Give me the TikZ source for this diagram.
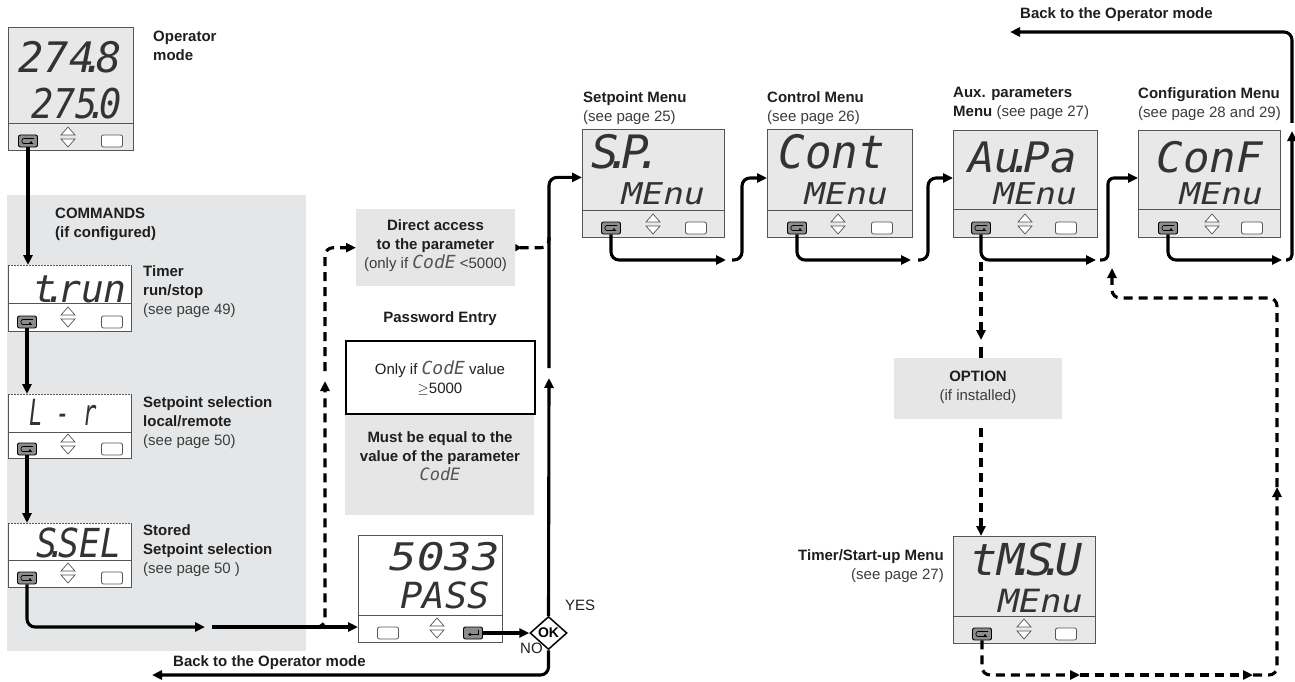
\documentclass[tikz,border=0pt]{standalone}
\usepackage{fontspec}
\usepackage{graphicx}
\setmainfont{Liberation Sans}
\newfontfamily\segfont{DejaVu Sans Mono}
\usetikzlibrary{arrows.meta,shapes.geometric}
\definecolor{panel}{HTML}{E5E6E8}
\definecolor{boxg}{HTML}{E6E6E6}
\definecolor{dispg}{HTML}{E8E8E8}
\definecolor{bord}{HTML}{555555}
\definecolor{btng}{HTML}{8C8C8C}
\definecolor{txt}{HTML}{1E1E1E}
\definecolor{subc}{HTML}{3C3C3C}
\definecolor{segc}{HTML}{333333}
\newcommand\dt{\kern-0.3em.\kern-0.25em}
\newcommand\seg[3]{\scalebox{#2}[1]{\fontsize{#1}{#1}\selectfont\segfont\itshape #3}}
\newcommand\subtx[1]{\textcolor{subc}{#1}}
\newcommand\codeword[1]{\seg{#1}{1}{\textcolor{bord}{CodE}}}
\tikzset{
  disp/.style={draw=bord, fill=dispg, line width=0.8, inner sep=0, anchor=north west},
  dispw/.style={fill=white, inner sep=0, anchor=north west},
  gbox/.style={fill=boxg, inner sep=0, anchor=north west},
  loopbtn/.style={draw=black, fill=btng, rounded corners=2, minimum width=19, minimum height=12, inner sep=0, line width=0.9},
  plainbtn/.style={draw=bord, fill=white, rounded corners=2, minimum width=21, minimum height=12, inner sep=0, line width=0.8},
  segt/.style={inner sep=0, text=segc, anchor=base east},
  lb/.style={anchor=north west, inner sep=0, align=left, text=txt, font=\fontsize{15}{19}\selectfont},
  lbc/.style={lb, anchor=north, align=center},
  lbr/.style={lb, anchor=north east, align=right},
  arr/.style={line width=3.1, -{Triangle[length=10pt,width=9pt]}, rounded corners=8},
  dsh/.style={arr, dash pattern=on 9pt off 6pt},
}
\newcommand\loopb[3]{%
  \node[loopbtn] (#1) at (#2,#3) {};
  \draw[line width=0.7, rounded corners=2] ([shift={(6,-2.5)}]#1.center) -- ([shift={(-6,-2.5)}]#1.center) -- ([shift={(-6,2.5)}]#1.center) -- ([shift={(5,2.5)}]#1.center);
  \draw[line width=0.7,-{Triangle[length=2pt,width=2.5pt]}] ([shift={(3,2.5)}]#1.center) -- ([shift={(3,0)}]#1.center);
}
\newcommand\plainb[3]{\node[plainbtn] (#1) at (#2,#3) {};}
\newcommand\enterb[3]{%
  \node[loopbtn] (#1) at (#2,#3) {};
  \draw[line width=0.7,-{Triangle[length=2.5pt,width=3pt]}] ([shift={(5,-3)}]#1.center) -- ([shift={(5,1.5)}]#1.center) -- ([shift={(-5,1.5)}]#1.center);
}
\newcommand\updn[2]{%
  \draw[line width=0.7, bord, fill=white] (#1-7,#2-2) -- (#1,#2-10) -- (#1+7,#2-2) -- cycle;
  \draw[line width=0.7, bord, fill=white] (#1-7,#2+2) -- (#1,#2+10) -- (#1+7,#2+2) -- cycle;
}
\begin{document}
\begin{tikzpicture}[x=1pt,y=-1pt]
\useasboundingbox[fill=white] (0,0) rectangle (1295,682);
% commands panel
\fill[panel] (7,195) rectangle (306,651);

% ---------- operator display
\node[disp, minimum width=125, minimum height=123] (op) at (8,27) {};
\draw[bord, line width=0.8] (op.west |- 0,123) -- (op.east |- 0,123);
\loopb{opL}{28}{141}\updn{68}{137}\plainb{opR}{112}{141}
\node[segt] (opT1) at (122,73) {\seg{42}{1}{274\dt 8}};
\node[segt] (opT2) at (122,118) {\seg{41}{0.9}{275\dt 0}};
\node[lb] (opLab) at (153,31) {\textbf{Operator}\\\textbf{mode}};

\node[lb] (cmdLab) at (55,208) {\textbf{COMMANDS}\\\textbf{(if configured)}};

% ---------- command displays
\foreach \nm/\yy/\hh/\dv in {trun/265/66/303, lr/394/64/432, ssel/523/64/560}{
  \node[dispw, minimum width=123, minimum height=\hh] (\nm) at (8,\yy) {};
  \draw[bord, line width=0.8] (\nm.north west) -- (\nm.south west) -- (\nm.south east) -- (\nm.north east);
  \draw[bord, line width=0.8, dash pattern=on 1.5pt off 1.5pt] (\nm.north west) -- (\nm.north east);
  \draw[bord, line width=0.8] (\nm.west |- 0,\dv) -- (\nm.east |- 0,\dv);
}
\loopb{trunL}{27}{322}\updn{68}{317}\plainb{trunR}{112}{322}
\loopb{lrL}{27}{449}\updn{68}{444}\plainb{lrR}{112}{449}
\loopb{sselL}{27}{578}\updn{68}{573}\plainb{sselR}{112}{578}
\node[segt] (trunT) at (127,302) {\seg{38}{1}{t\dt run}};
\node[segt] (lrT) at (97,425) {\seg{36}{0.62}{L - r}};
\node[segt] (sselT) at (122,557) {\seg{40}{0.87}{S\dt SEL}};
\node[lb] (trunLab) at (143,265) {\textbf{Timer}\\\textbf{run/stop}\\\subtx{(see page 49)}};
\node[lb] (lrLab) at (143,396) {\textbf{Setpoint selection}\\\textbf{local/remote}\\\subtx{(see page 50)}};
\node[lb] (sselLab) at (143,524) {\textbf{Stored}\\\textbf{Setpoint selection}\\\subtx{(see page 50 )}};

% ---------- direct access / password
\node[gbox, minimum width=159, minimum height=77] (direct) at (356,209) {};
\node[lbc] (directT) at (435.5,219) {\textbf{Direct access}\\\textbf{to the parameter}\\\subtx{(only if \codeword{18} <5000)}};
\node[lbc] (pwLab) at (440,311) {\textbf{Password Entry}};
\node[gbox, minimum width=189, minimum height=102] (must) at (345,413) {};
\node[draw=black, line width=1.5, fill=white, inner sep=0, anchor=north west, minimum width=189, minimum height=73] (pwbox) at (345,340) {};
\node[lbc] (pwT) at (440,361) {Only if \codeword{18} value\\$\geq$5000};
\node[lbc] (mustT) at (440,431) {\textbf{Must be equal to the}\\\textbf{value of the parameter}\\\codeword{17}};

% ---------- pass display
\node[disp, fill=white, minimum width=144, minimum height=107] (pass) at (358,535) {};
\draw[bord, line width=0.8] (pass.west |- 0,615) -- (pass.east |- 0,615);
\plainb{passP}{388}{633}\updn{437}{628}\enterb{passE}{473}{633}
\node[segt] (passT1) at (500,570) {\seg{38}{1.2}{5033}};
\node[segt] (passT2) at (490,608) {\seg{36}{1.03}{PASS}};

\node[diamond, draw=black, line width=1.5, fill=white, minimum width=37, minimum height=33, inner sep=0] (ok) at (548.5,633) {\fontsize{14}{14}\selectfont\textbf{OK}};
\node[lb] (yes) at (565,600) {YES};
\node[lb] (no) at (520,643) {NO};

% ---------- menus
\node[disp, minimum width=142, minimum height=108] (sp) at (582,129) {};
\draw[bord, line width=0.8] (sp.west |- 0,210) -- (sp.east |- 0,210);
\loopb{spL}{611}{228}\updn{653}{224}\plainb{spR}{696}{228}
\node[segt] (spT1) at (652,168) {\seg{46}{1}{S\dt P\dt}};
\node[segt] (spT2) at (705,204) {\seg{30}{1.15}{MEnu}};
\node[lb] (spLab) at (583,91) {\textbf{Setpoint Menu}\\\subtx{(see page 25)}};

\node[disp, minimum width=145, minimum height=108] (cont) at (767,129) {};
\draw[bord, line width=0.8] (cont.west |- 0,210) -- (cont.east |- 0,210);
\loopb{contL}{797}{228}\updn{838}{224}\plainb{contR}{882}{228}
\node[segt] (contT1) at (885,168) {\seg{46}{0.96}{Cont}};
\node[segt] (contT2) at (888,204) {\seg{30}{1.15}{MEnu}};
\node[lb] (contLab) at (767,91) {\textbf{Control Menu}\\\subtx{(see page 26)}};

\node[disp, minimum width=144, minimum height=107] (aux) at (953,130) {};
\draw[bord, line width=0.8] (aux.west |- 0,209) -- (aux.east |- 0,209);
\loopb{auxL}{981}{228}\updn{1025}{224}\plainb{auxR}{1066}{228}
\node[segt] (auxT1) at (1077,172) {\seg{42}{1.05}{Au\dt Pa}};
\node[segt] (auxT2) at (1077,204) {\seg{30}{1.15}{MEnu}};
\node[lb] (auxLab) at (953,87) {\textbf{Aux. parameters}\\\textbf{Menu} \subtx{(see page 27)}};

\node[disp, minimum width=142, minimum height=107] (conf) at (1138,130) {};
\draw[bord, line width=0.8] (conf.west |- 0,209) -- (conf.east |- 0,209);
\loopb{confL}{1168}{228}\updn{1212}{224}\plainb{confR}{1252}{228}
\node[segt] (confT1) at (1263,172) {\seg{42}{1.05}{ConF}};
\node[segt] (confT2) at (1263,204) {\seg{30}{1.15}{MEnu}};
\node[lb] (confLab) at (1138,87) {\textbf{Configuration Menu}\\\subtx{(see page 28 and 29)}};

\node[lb] (backTop) at (1020,7) {\textbf{Back to the Operator mode}};
\node[lb] (backBot) at (173,655) {\textbf{Back to the Operator mode}};

% option + timer menu
\node[gbox, minimum width=168, minimum height=61] (option) at (894,358) {};
\node[lbc] (optT) at (978,371) {\textbf{OPTION}\\\subtx{(if installed)}};
\node[disp, minimum width=142, minimum height=107] (tmsu) at (953,536) {};
\draw[bord, line width=0.8] (tmsu.west |- 0,616) -- (tmsu.east |- 0,616);
\loopb{tmL}{982}{634}\updn{1024}{629}\plainb{tmR}{1066}{634}
\node[segt] (tmT1) at (1083,575) {\seg{44}{1.02}{tM\dt S\dt U}};
\node[segt] (tmT2) at (1083,612) {\seg{32}{1.1}{MEnu}};
\node[lbr] (tmLab) at (944,549) {\textbf{Timer/Start-up Menu}\\\subtx{(see page 27)}};

% ---------- coordinates
\coordinate (g1) at (205,627);
\coordinate (g2) at (212,627);
\coordinate (dj) at (316,627);
\coordinate (dm) at (325,381);
\coordinate (dm2) at (325,371);
\coordinate (vj) at (549,237);
\coordinate (va) at (549,378);
\coordinate (vb) at (549,368);
\coordinate (bk) at (152,675);
\coordinate (m1) at (726,260);  \coordinate (m1b) at (732,260); \coordinate (c1) at (742,178);
\coordinate (m2) at (911,260);  \coordinate (m2b) at (918,260); \coordinate (c2) at (928,178);
\coordinate (m3) at (1096,260); \coordinate (m3b) at (1100,260); \coordinate (c3) at (1108,178);
\coordinate (m4) at (1282,260); \coordinate (m4b) at (1286,260); \coordinate (c4) at (1292,131);
\coordinate (c5) at (1292,123); \coordinate (bt) at (1010,32);
\coordinate (ad0) at (981,262); \coordinate (ad1) at (981,340); \coordinate (ad2) at (981,347);
\coordinate (ad3) at (981,428);
\coordinate (b1) at (1080,675); \coordinate (b2) at (1253,675); \coordinate (b3) at (1277,487);
\coordinate (b4) at (1112,298); \coordinate (b5) at (1112,268);

% ---------- connectors
\draw[arr] (opL.south) -- (opL.south |- trun.north);
\draw[arr] (trunL.south) -- (trunL.south |- lr.north);
\draw[arr] (lrL.south) -- (lrL.south |- ssel.north);
\draw[arr] (sselL.south) |- (g1);
\draw[arr] (g2) -- (g2 -| pass.west);
\draw[dsh] (dj) -| (dm);
\draw[dsh] (dm2) |- (direct.west);
\draw[dsh, {Triangle[reversed,length=6pt,width=7pt]}-] (direct.east) -| (vj);
\draw[arr] (passE.east) -- (ok.west);
\draw[arr] (ok.north) -- (va);
\draw[arr] (vb) |- ([yshift=6pt]sp.west);
\draw[arr] (ok.south) |- (bk);

\draw[arr] (spL.south) |- (m1);
\draw[arr] (m1b) -| (c1) -- (c1 -| cont.west);
\draw[arr] (contL.south) |- (m2);
\draw[arr] (m2b) -| (c2) -- (c2 -| aux.west);
\draw[arr] (auxL.south) |- (m3);
\draw[arr, rounded corners=6] (m3b) -| (c3) -- (c3 -| conf.west);
\draw[arr] (confL.south) |- (m4);
\draw[arr, rounded corners=5] (m4b) -| (c4);
\draw[arr] (c5) |- (bt);

\draw[dsh] (ad0) -- (ad1);
\draw[line width=3.1] (ad2) -- (ad2 |- option.north);
\draw[dsh] (ad3) -- (ad3 |- tmsu.north);
\draw[dsh] (tmL.south) |- (b1);
\draw[dsh] (b1) -- (b2);
\draw[dsh] (b2) -| (b3);
\draw[dsh] (b3) |- (b4) -- (b5);
\end{tikzpicture}
\end{document}
